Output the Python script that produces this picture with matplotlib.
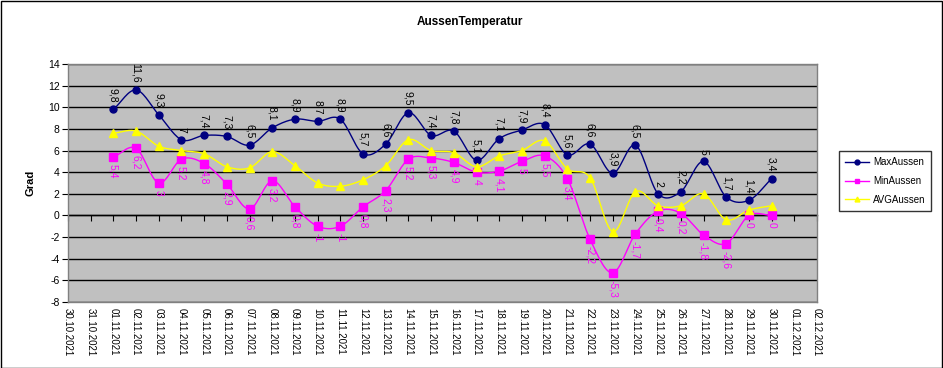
import numpy as np
import pandas as pd
import matplotlib
matplotlib.use("Agg")
import matplotlib.pyplot as plt
import matplotlib.dates as mdates
from matplotlib.patches import Rectangle
from matplotlib.lines import Line2D

plt.rcParams['font.family'] = ['Liberation Sans', 'DejaVu Sans']

dates = pd.date_range("2021-11-01", "2021-11-30", freq="D")
max_aussen = [9.8, 11.6, 9.3, 7, 7.4, 7.3, 6.5, 8.1, 8.9, 8.7, 8.9, 5.7, 6.6, 9.5, 7.4,
              7.8, 5.1, 7.1, 7.9, 8.4, 5.6, 6.6, 3.9, 6.5, 2, 2.2, 5, 1.7, 1.4, 3.4]
min_aussen = [5.4, 6.2, 3, 5.2, 4.8, 2.9, 0.6, 3.2, 0.8, -1, -1, 0.8, 2.3, 5.2, 5.3,
              4.9, 4, 4.1, 5, 5.5, 3.4, -2.2, -5.3, -1.7, 0.4, 0.2, -1.8, -2.6, 0, 0]
avg_aussen = [7.6, 7.8, 6.4, 6.0, 5.7, 4.5, 4.4, 5.9, 4.6, 3.0, 2.7, 3.3, 4.6, 7.0, 6.0,
              5.8, 4.5, 5.5, 6.0, 6.9, 4.3, 3.5, -1.5, 2.2, 0.9, 0.9, 2.0, -0.4, 0.5, 0.9]
tick_dates = pd.date_range("2021-10-30", "2021-12-02", freq="D")
tick_labels = [d.strftime("%d.%m.%Y") for d in tick_dates]
y_ticks = list(range(-8, 15, 2))

W, H = 943, 368
fig = plt.figure(figsize=(W / 100, H / 100), dpi=100)
fig.patch.set_facecolor("white")
fig.add_artist(Rectangle((0.5 / W, 0.5 / H), (W - 1.5) / W, (H - 1.5) / H,
                         transform=fig.transFigure, fill=False, edgecolor="black", lw=1))

ax = fig.add_axes([68 / W, (H - 302) / H, (817 - 68) / W, (302 - 64) / H])
ax.set_facecolor("#C0C0C0")
for s in ax.spines.values():
    s.set_color("#808080")
    s.set_linewidth(1)

xnum = mdates.date2num(dates)
tnum = mdates.date2num(tick_dates)


def smooth(x, y, n=16):
    x = np.asarray(x, float)
    y = np.asarray(y, float)
    px = np.concatenate([[2 * x[0] - x[1]], x, [2 * x[-1] - x[-2]]])
    py = np.concatenate([[2 * y[0] - y[1]], y, [2 * y[-1] - y[-2]]])
    xs, ys = [], []
    for i in range(1, len(px) - 2):
        t = np.linspace(0, 1, n, endpoint=False)
        p0x, p1x, p2x, p3x = px[i - 1:i + 3]
        p0y, p1y, p2y, p3y = py[i - 1:i + 3]
        c1x, c1y = p1x + (p2x - p0x) / 6, p1y + (p2y - p0y) / 6
        c2x, c2y = p2x - (p3x - p1x) / 6, p2y - (p3y - p1y) / 6
        b = lambda a, b1, b2, c: ((1 - t) ** 3) * a + 3 * ((1 - t) ** 2) * t * b1 + 3 * (1 - t) * t ** 2 * b2 + t ** 3 * c
        xs.append(b(p1x, c1x, c2x, p2x))
        ys.append(b(p1y, c1y, c2y, p2y))
    xs.append([x[-1]])
    ys.append([y[-1]])
    return np.concatenate(xs), np.concatenate(ys)


for yv in y_ticks:
    ax.axhline(yv, color="black", lw=1, zorder=1)

series = [
    (max_aussen, "#000080", "o", 5, "MaxAussen"),
    (min_aussen, "#FF00FF", "s", 5.5, "MinAussen"),
    (avg_aussen, "#FFFF00", "^", 5.5, "AVGAussen"),
]
handles = []
for vals, col, mk, ms, name in series:
    sx, sy = smooth(xnum, vals)
    ax.plot(sx, sy, color=col, lw=1, zorder=3)
    ax.plot(xnum, vals, ls="none", marker=mk, ms=ms, color=col, mec=col, zorder=4)
    handles.append(Line2D([], [], color=col, lw=1, marker=mk, ms=3.5, mec=col, label=name))


def fmt(v):
    s = ("%g" % v).replace(".", ",")
    return s

for xv, v in zip(xnum, max_aussen):
    ax.annotate(fmt(v), (xv, v), xytext=(0, 5), textcoords="offset points",
                rotation=-90, ha="center", va="bottom", fontsize=7.5, color="black", zorder=5)
for xv, v in zip(xnum, min_aussen):
    ax.annotate(fmt(v), (xv, v), xytext=(0, -5), textcoords="offset points",
                rotation=-90, ha="center", va="top", fontsize=7.5, color="#FF00FF", zorder=5)

ax.set_xlim(tnum[0], tnum[-1])
ax.set_ylim(-8, 14)
ax.set_yticks(y_ticks)
ax.set_yticklabels([str(v) for v in y_ticks], fontsize=7.5)
ax.set_xticks(tnum)
ax.set_xticklabels(tick_labels, rotation=-90, fontsize=7, va="top", ha="center")
ax.tick_params(axis="x", length=0, pad=4)
ax.tick_params(axis="y", length=4, direction="out", color="black", pad=2)

sec = ax.secondary_xaxis(8 / 22)
sec.set_xticks(tnum)
sec.set_xticklabels([])
sec.tick_params(length=4, direction="out", color="black")
sec.spines["bottom"].set_color("black")
sec.spines["bottom"].set_linewidth(1)

ax.set_ylabel("Grad", fontsize=8, fontweight="bold", labelpad=9)
fig.text(470 / W, 1 - 22 / H, "AussenTemperatur", ha="center", va="center",
         fontsize=8.5, fontweight="bold")

leg = fig.legend(handles=handles, loc="center", bbox_to_anchor=(885 / W, 1 - 181 / H),
                 fontsize=7, frameon=True, fancybox=False, edgecolor="black",
                 handlelength=2.5, borderpad=0.6, labelspacing=0.9, handletextpad=0.4)
leg.get_frame().set_linewidth(1)

fig.savefig("out.png", dpi=100)
